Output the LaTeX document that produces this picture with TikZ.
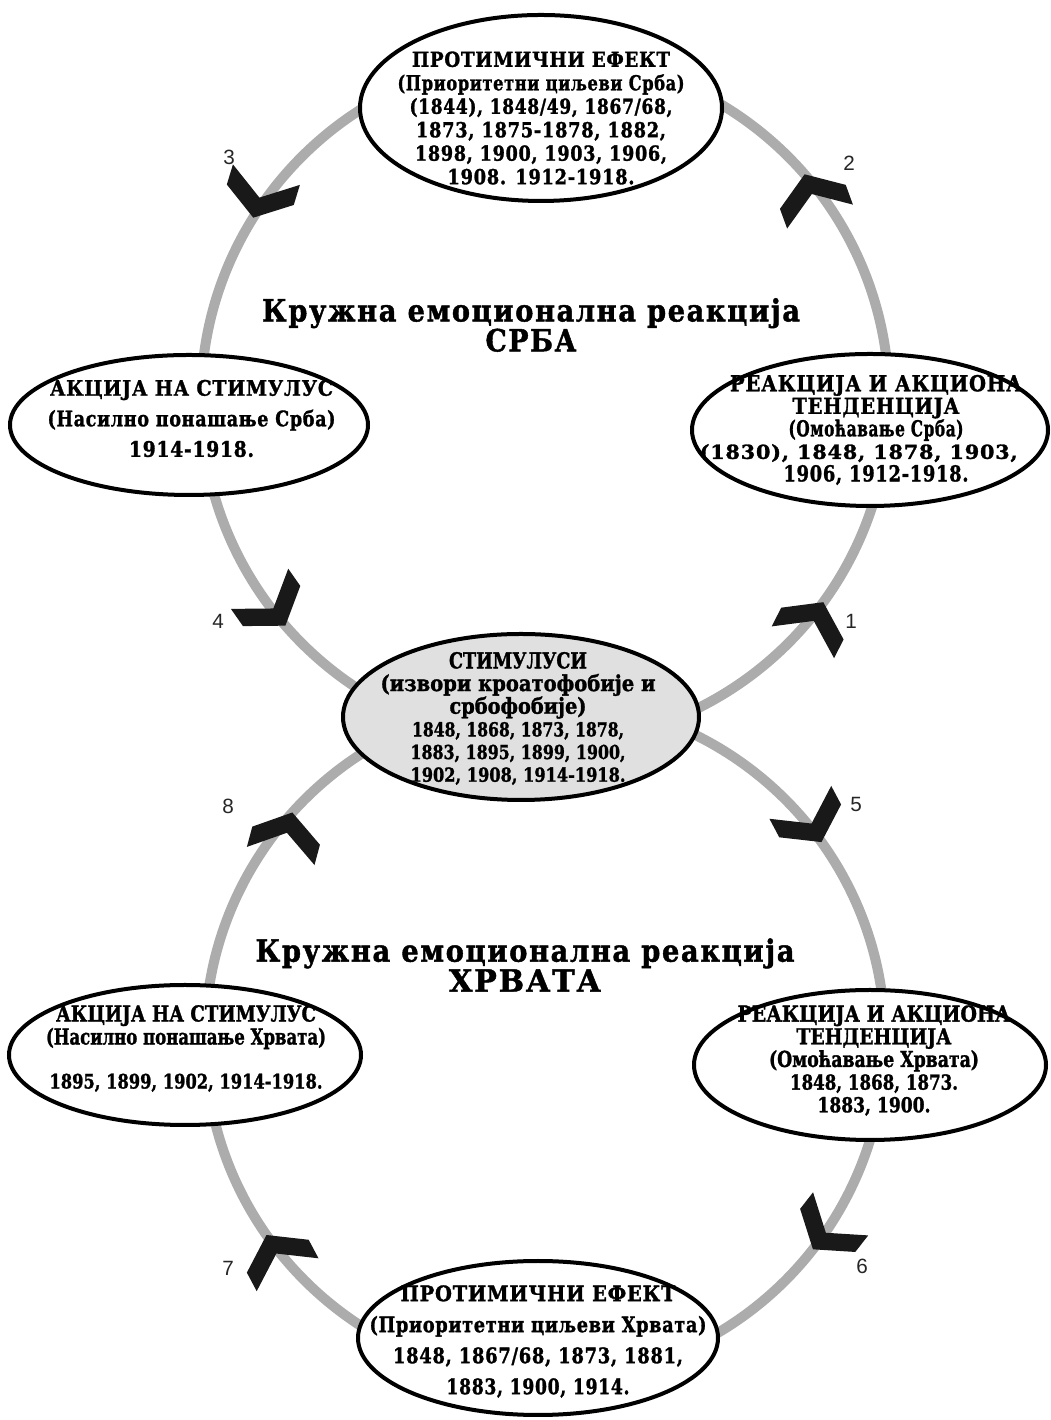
\documentclass[tikz,border=0pt]{standalone}
\usepackage{graphicx}
\usepackage{fontspec}
\setmainfont{DejaVu Serif}
\newfontfamily\numfont{Liberation Sans}
\usetikzlibrary{shapes.geometric}
\definecolor{ringgray}{RGB}{172,172,172}
\definecolor{chevblack}{RGB}{25,25,25}
\definecolor{stimfill}{RGB}{224,224,224}
\newdimen\pxu \pxu=0.75pt
\newcommand\fw[2]{\resizebox{#1\pxu}{\height}{#2}}
\newcommand\fs[3]{\resizebox{#2\pxu}{\height}{\fontsize{#1}{17}\selectfont #3}}
\newcommand\tf[3]{\fontsize{#1}{#2}\selectfont\bfseries\addfontfeature{LetterSpace=#3,FakeBold=1.5}}
\begin{document}
\begin{tikzpicture}[x=0.75pt,y=0.75pt,
  ring/.style={draw=ringgray, line width=7.5pt},
  ell/.style={ellipse, draw=black, line width=3pt, fill=white, inner sep=0pt},
  sp/.style={align=center, inner sep=0pt, text=black},
  num/.style={font=\numfont\fontsize{15.5}{17}\selectfont, text=black!85, inner sep=0pt},
  chev/.pic={\fill[chevblack] (0,0) -- (-24,35) -- (-45,35) -- (-21,0) -- (-45,-35) -- (-24,-35) -- cycle;}
]
\useasboundingbox (0,0) rectangle (1050,1420);
\fill[white] (0,0) rectangle (1050,1420);
% rings
\coordinate (cU) at (545,1020);
\coordinate (cL) at (545,380);
\draw[ring] (cU) circle [radius=344];
\draw[ring] (cL) circle [radius=340];
% chevron positions
\path (cU) ++(-36:344) coordinate (a1);
\path (cU) ++(41:344) coordinate (a2);
\path (cU) ++(148:344) coordinate (a3);
\path (cU) ++(221:344) coordinate (a4);
\path (cL) ++(35.6:340) coordinate (a5);
\path (cL) ++(-38:340) coordinate (a6);
\path (cL) ++(215:340) coordinate (a7);
\path (cL) ++(138:340) coordinate (a8);
\pic[rotate=63] at (a1) {chev};
\pic[rotate=110] at (a2) {chev};
\pic[rotate=253] at (a3) {chev};
\pic[rotate=305] at (a4) {chev};
\pic[rotate=-62] at (a5) {chev};
\pic[rotate=-128] at (a6) {chev};
\pic[rotate=118] at (a7) {chev};
\pic[rotate=75] at (a8) {chev};
% ellipses
\node[ell, minimum width=271.5pt, minimum height=139.5pt] (topE) at (541,1312) {};
\node[ell, fill=stimfill, minimum width=267pt, minimum height=124.5pt] (stimE) at (521,703) {};
\node[ell, minimum width=268.5pt, minimum height=105pt] (ulE) at (189,995) {};
\node[ell, minimum width=267pt, minimum height=114pt] (urE) at (870,990) {};
\node[ell, minimum width=264pt, minimum height=105pt] (llE) at (185,365) {};
\node[ell, minimum width=264pt, minimum height=112.5pt] (lrE) at (870,355) {};
\node[ell, minimum width=270pt, minimum height=115.5pt] (botE) at (538,82) {};
% texts
\node[sp, font=\tf{15.5}{17.6}{4}] (topT) at (541,1302)
 {\fw{258}{ПРОТИМИЧНИ ЕФЕКТ}\\\fw{287}{(Приоритетни циљеви Срба)}\\\fw{263}{(1844), 1848/49, 1867/68,}\\\fw{250}{1873, 1875-1878, 1882,}\\\fw{252}{1898, 1900, 1903, 1906,}\\\fw{187}{1908. 1912-1918.}};
\node[sp, font=\tf{16.5}{17}{0}] (stimT) at (518,701.5)
 {\fw{138}{СТИМУЛУСИ}\\\fw{275}{(извори кроатофобије и}\\\fw{137}{србофобије)}\\\fs{14.5}{212}{1848, 1868, 1873, 1878,}\\\fs{14.5}{215}{1883, 1895, 1899, 1900,}\\\fs{14.5}{215}{1902, 1908, 1914-1918.}};
\node[sp, font=\tf{16}{22.9}{4}] (ulT) at (191.5,1001.5)
 {\fw{283}{АКЦИЈА НА СТИМУЛУС}\\\fw{288}{(Насилно понашање Срба)}\\\fw{125}{1914-1918.}};
\node[sp, font=\tf{16.5}{16.9}{4}] (urT) at (876,990)
 {\fw{292}{РЕАКЦИЈА И АКЦИОНА}\\\fw{167}{ТЕНДЕНЦИЈА}\\\fw{175}{(Омоћавање Срба)}\\\hbox{\fs{14.5}{318}{(1830), 1848, 1878, 1903,}\kern26pt}\\\fw{185}{1906, 1912-1918.}};
\node[sp, font=\tf{16.5}{17.25}{0}] (llT) at (186,371.5)
 {\fw{260}{АКЦИЈА НА СТИМУЛУС}\\\fw{280}{(Насилно понашање Хрвата)}\\[15.75pt]\fs{15}{273}{1895, 1899, 1902, 1914-1918.}};
\node[sp, font=\tf{16.5}{17}{0}] (lrT) at (874,359.5)
 {\fw{273}{РЕАКЦИЈА И АКЦИОНА}\\\fw{155}{ТЕНДЕНЦИЈА}\\\fw{210}{(Омоћавање Хрвата)}\\\fs{15.5}{168}{1848, 1868, 1873.}\\\fs{15.5}{113}{1883, 1900.}};
\node[sp, font=\tf{16}{23.25}{4}] (botT) at (538,78.5)
 {\fw{275}{ПРОТИМИЧНИ ЕФЕКТ}\\\fw{337}{(Приоритетни циљеви Хрвата)}\\\fw{290}{1848, 1867/68, 1873, 1881,}\\\fw{183}{1883, 1900, 1914.}};
% titles
\node[sp, font=\tf{23}{22.5}{6}] (titleU) at (531,1095)
 {\fw{538}{Кружна емоционална реакција}\\\fw{91}{СРБА}};
\node[sp, font=\tf{23}{22.5}{6}] (titleL) at (525,455)
 {\fw{539}{Кружна емоционална реакција}\\\fw{152}{ХРВАТА}};
% numbers
\node[num] (n1) at (851,799) {1};
\node[num] (n2) at (849,1257) {2};
\node[num] (n3) at (229,1263) {3};
\node[num] (n4) at (218,799) {4};
\node[num] (n5) at (856,616) {5};
\node[num] (n6) at (862,154) {6};
\node[num] (n7) at (228,152) {7};
\node[num] (n8) at (228,614) {8};
\end{tikzpicture}
\end{document}
